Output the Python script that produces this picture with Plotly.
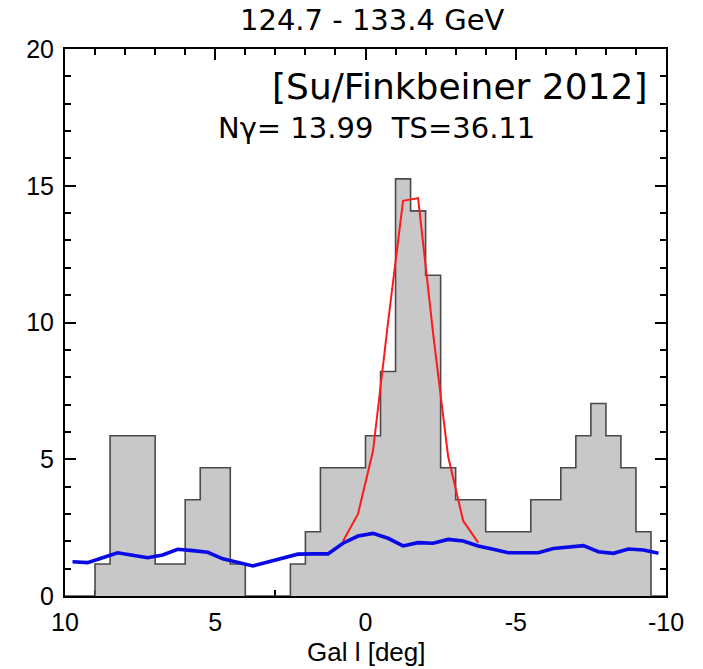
import plotly.graph_objects as go

# Histogram: left edges of 0.5-deg bins (Galactic l, descending) and bin heights
bin_left = [10.0, 9.5, 9.0, 8.5, 8.0, 7.5, 7.0, 6.5, 6.0, 5.5,
            5.0, 4.5, 4.0, 3.5, 3.0, 2.5, 2.0, 1.5, 1.0, 0.5,
            0.0, -0.5, -1.0, -1.5, -2.0, -2.5, -3.0, -3.5, -4.0, -4.5,
            -5.0, -5.5, -6.0, -6.5, -7.0, -7.5, -8.0, -8.5, -9.0, -9.5]
bin_end = -10.0
hist_vals = [0.0, 0.0, 1.17, 5.86, 5.86, 5.86, 1.17, 1.17, 3.52, 4.69,
             4.69, 1.17, 0.0, 0.0, 0.0, 1.17, 2.35, 4.69, 4.69, 4.69,
             5.86, 8.21, 15.25, 14.08, 11.73, 4.69, 3.52, 3.52, 2.35, 2.35,
             2.35, 3.52, 3.52, 4.69, 5.86, 7.04, 5.86, 4.69, 2.35, 0.0]

# Background model (blue), sampled at bin centres
bg_l = [9.75, 9.25, 8.75, 8.25, 7.75, 7.25, 6.75, 6.25, 5.75, 5.25,
        4.75, 4.25, 3.75, 3.25, 2.75, 2.25, 1.75, 1.25, 0.75, 0.25,
        -0.25, -0.75, -1.25, -1.75, -2.25, -2.75, -3.25, -3.75, -4.25, -4.75,
        -5.25, -5.75, -6.25, -6.75, -7.25, -7.75, -8.25, -8.75, -9.25, -9.75]
bg_vals = [1.25, 1.22, 1.40, 1.58, 1.49, 1.40, 1.50, 1.71, 1.66, 1.60,
           1.36, 1.22, 1.10, 1.24, 1.38, 1.53, 1.54, 1.54, 1.93, 2.19,
           2.29, 2.11, 1.83, 1.95, 1.93, 2.07, 2.01, 1.83, 1.71, 1.58,
           1.58, 1.58, 1.74, 1.78, 1.84, 1.62, 1.56, 1.72, 1.68, 1.56]

# Line model (red)
fit_l = [0.75, 0.25, -0.25, -0.75, -1.25, -1.75, -2.25, -2.75, -3.25, -3.75]
fit_vals = [2.0, 3.0, 5.3, 10.0, 14.45, 14.55, 9.6, 5.1, 2.75, 1.95]

x_ticks = [10, 5, 0, -5, -10]
y_ticks = [0, 5, 10, 15, 20]

title_text = "124.7 - 133.4 GeV"
credit_text = "[Su/Finkbeiner 2012]"
stats_text = "N\u03b3= 13.99  TS=36.11"
x_title = "Gal l [deg]"

fig = go.Figure()
fig.add_trace(go.Scatter(
    x=bin_left + [bin_end], y=hist_vals + [hist_vals[-1]],
    mode="lines", line=dict(shape="hv", color="#4a4a4a", width=1.6),
    fill="tozeroy", fillcolor="#c8c8c8", hoverinfo="skip", showlegend=False))
fig.add_trace(go.Scatter(
    x=fit_l, y=fit_vals, mode="lines",
    line=dict(color="#ff1a1a", width=2), showlegend=False))
fig.add_trace(go.Scatter(
    x=bg_l, y=bg_vals, mode="lines",
    line=dict(color="#0a0ae6", width=3.6), showlegend=False))

sans = "Liberation Sans, Arial, sans-serif"
axis_font = dict(family=sans, size=25, color="black")
fig.update_xaxes(
    range=[10, -10], tickvals=x_ticks, ticktext=[str(v) for v in x_ticks],
    ticks="inside", ticklen=11, tickwidth=1.5, tickcolor="black",
    minor=dict(dtick=1, tick0=0, ticks="inside", ticklen=6, tickwidth=1.5, tickcolor="black"),
    showline=True, linecolor="black", linewidth=2, mirror="ticks",
    showgrid=False, zeroline=False, tickfont=axis_font, ticklabelstandoff=3,
    layer="below traces", automargin=False)
fig.update_yaxes(
    range=[0, 20], tickvals=y_ticks, ticktext=[str(v) for v in y_ticks],
    ticks="inside", ticklen=11, tickwidth=1.5, tickcolor="black",
    minor=dict(dtick=1, tick0=0, ticks="inside", ticklen=6, tickwidth=1.5, tickcolor="black"),
    showline=True, linecolor="black", linewidth=2, mirror="ticks",
    showgrid=False, zeroline=False, tickfont=axis_font, ticklabelstandoff=4,
    layer="below traces", automargin=False)

# plot area in page pixels: x 65..666, y 49..596 (page has an 8px body margin)
def px_x(p):
    return (p - 65) / 601.0

def px_y(p):
    return (596 - p) / 547.0

fig.add_annotation(text=title_text, xref="paper", yref="paper", x=px_x(372), y=px_y(20),
                   xanchor="center", yanchor="middle", showarrow=False,
                   font=dict(family="DejaVu Sans, sans-serif", size=29, color="black"))
fig.add_annotation(text=credit_text, xref="paper", yref="paper", x=px_x(649), y=px_y(87),
                   xanchor="right", yanchor="middle", showarrow=False,
                   font=dict(family="DejaVu Sans, sans-serif", size=36, color="black"))
fig.add_annotation(text=stats_text, xref="paper", yref="paper", x=px_x(376), y=px_y(128),
                   xanchor="center", yanchor="middle", showarrow=False,
                   font=dict(family="DejaVu Sans, sans-serif", size=29, color="black"))
fig.add_annotation(text=x_title, xref="paper", yref="paper", x=px_x(366), y=px_y(652),
                   xanchor="center", yanchor="middle", showarrow=False,
                   font=dict(family=sans, size=26, color="black"))

fig.update_layout(
    width=695, height=661, margin=dict(l=57, r=37, t=41, b=73, autoexpand=False),
    paper_bgcolor="white", plot_bgcolor="white", showlegend=False)

fig.write_html("out.html")
